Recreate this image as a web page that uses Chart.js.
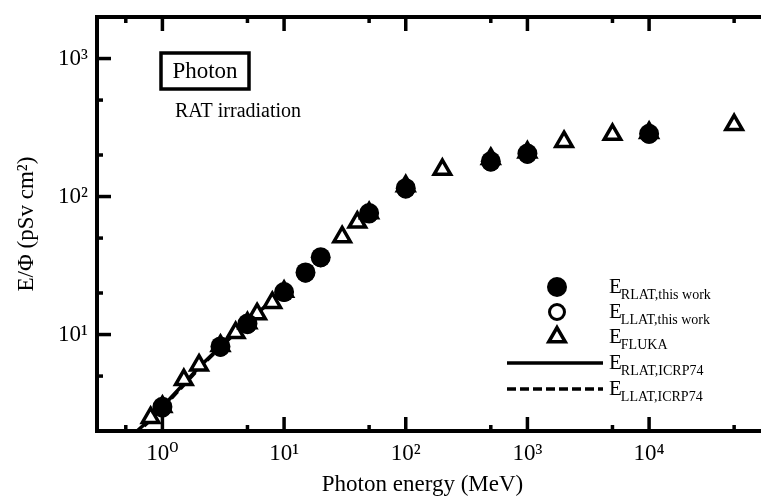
<!DOCTYPE html>
<html>
<head>
<meta charset="utf-8">
<script src="https://cdn.jsdelivr.net/npm/chart.js@4.4.0/dist/chart.umd.min.js"></script>
<style>
  html, body { margin: 0; padding: 0; background: #fff; }
  #wrap { width: 761px; height: 502px; position: relative; }
</style>
</head>
<body>
<div id="wrap"><canvas id="doseChart"></canvas></div>
<script>
// E/Phi values (pSv cm^2), photon energy in MeV
const energyThisWork = [1, 3, 5, 10, 15, 20, 50, 100, 500, 1000, 10000];
const rlatThisWork = [3.0, 8.2, 12.0, 20.3, 28.2, 36.3, 76, 115, 180, 205, 285];
const llatThisWork = [2.9, 8.0, 11.7, 20.0, 27.6, 35.6, 74, 112, 176, 200, 280];

const energyFluka = [0.8, 1, 1.5, 2, 3, 4, 5, 6, 8, 10, 30, 40, 50, 100, 200, 500, 1000, 2000, 5000, 10000, 50000];
const flukaValues = [2.5, 3.0, 4.7, 6.0, 8.3, 10.3, 12.1, 14.1, 17.0, 20.5, 51, 65, 76, 119, 157, 188, 209, 250, 281, 290, 331];

const energyIcrp = [0.5, 0.6, 0.8, 1, 1.5, 2, 3, 4, 5, 6, 8, 10];
const rlatIcrp74 = [1.65, 1.95, 2.45, 3.0, 4.4, 5.8, 8.2, 10.5, 12.4, 14.3, 17.6, 20.4];
const llatIcrp74 = [1.6, 1.9, 2.4, 2.95, 4.3, 5.7, 8.1, 10.3, 12.2, 14.1, 17.4, 20.1];

const xMajorTicks = [1, 10, 100, 1000, 10000];
const xMinorTicks = [0.5, 5, 50, 500, 5000, 50000];
const yMajorTicks = [10, 100, 1000];
const yMinorTicks = [5, 20, 50, 200, 500];

const legendLabels = [
    ['E', 'RLAT,this work'],
    ['E', 'LLAT,this work'],
    ['E', 'FLUKA'],
    ['E', 'RLAT,ICRP74'],
    ['E', 'LLAT,ICRP74']
];

const serif = "'Liberation Serif', 'Times New Roman', 'DejaVu Serif', serif";
const SUP = ['⁰', '¹', '²', '³', '⁴', '⁵', '⁶', '⁷', '⁸', '⁹'];

function toPoints(xs, ys) {
    return xs.map((x, i) => ({ x: x, y: ys[i] }));
}

function buildTicks(major, minor) {
    return major.map(v => ({ value: v, major: true }))
        .concat(minor.map(v => ({ value: v, major: false })))
        .sort((a, b) => a.value - b.value);
}

function decadeLabel(value) {
    const e = Math.round(Math.log10(value));
    return '10' + String(e).split('').map(d => SUP[+d]).join('');
}

function drawSymbol(ctx, style, x, y) {
    ctx.save();
    ctx.lineWidth = style.borderWidth;
    ctx.strokeStyle = '#000';
    ctx.fillStyle = style.fill;
    ctx.beginPath();
    if (style.shape === 'circle') {
        ctx.arc(x, y, style.radius, 0, Math.PI * 2);
    } else if (style.shape === 'triangle') {
        const r = style.radius;
        ctx.moveTo(x, y - r);
        ctx.lineTo(x + r * Math.sin(Math.PI * 2 / 3), y - r * Math.cos(Math.PI * 2 / 3));
        ctx.lineTo(x - r * Math.sin(Math.PI * 2 / 3), y - r * Math.cos(Math.PI * 2 / 3));
        ctx.closePath();
    }
    ctx.fill();
    if (style.borderWidth > 0) ctx.stroke();
    ctx.restore();
}

// frame with inward ticks on left, top and bottom
const frameTicks = {
    id: 'frameTicks',
    afterDraw(chart) {
        const ctx = chart.ctx;
        const a = chart.chartArea;
        const xs = chart.scales.x;
        const ys = chart.scales.y;
        ctx.save();
        ctx.strokeStyle = '#000';
        ctx.lineCap = 'butt';
        ctx.lineWidth = 4;
        ctx.beginPath();
        ctx.moveTo(chart.width + 2, a.top);
        ctx.lineTo(a.left, a.top);
        ctx.lineTo(a.left, a.bottom);
        ctx.lineTo(chart.width + 2, a.bottom);
        ctx.stroke();

        ctx.lineWidth = 3.5;
        xs.ticks.forEach(t => {
            const px = xs.getPixelForValue(t.value);
            const len = t.major ? 14 : 6;
            ctx.beginPath();
            ctx.moveTo(px, a.bottom);
            ctx.lineTo(px, a.bottom - len);
            ctx.moveTo(px, a.top);
            ctx.lineTo(px, a.top + len);
            ctx.stroke();
        });
        ys.ticks.forEach(t => {
            const py = ys.getPixelForValue(t.value);
            const len = t.major ? 14 : 6;
            ctx.beginPath();
            ctx.moveTo(a.left, py);
            ctx.lineTo(a.left + len, py);
            ctx.stroke();
        });
        ctx.restore();
    }
};

const notes = {
    id: 'notes',
    afterDraw(chart) {
        const ctx = chart.ctx;
        ctx.save();
        ctx.fillStyle = '#000';
        ctx.strokeStyle = '#000';

        // "Photon" box
        ctx.lineWidth = 3.5;
        ctx.strokeRect(161, 53, 88, 36);
        ctx.font = '23px ' + serif;
        ctx.textAlign = 'center';
        ctx.textBaseline = 'middle';
        ctx.fillText('Photon', 205, 72);

        ctx.textAlign = 'left';
        ctx.font = '20px ' + serif;
        ctx.fillText('RAT irradiation', 175, 112);

        // legend
        const styles = [
            { shape: 'circle', radius: 10, fill: '#000', borderWidth: 0 },
            { shape: 'circle', radius: 7.5, fill: '#fff', borderWidth: 3 },
            { shape: 'triangle', radius: 9.5, fill: '#fff', borderWidth: 3.5 },
            { shape: 'line', dash: [] },
            { shape: 'line', dash: [9, 4] }
        ];
        const rowY = [287, 312, 337, 363, 389];
        legendLabels.forEach((lab, i) => {
            const st = styles[i];
            const y = rowY[i];
            if (st.shape === 'line') {
                ctx.save();
                ctx.lineWidth = 3.5;
                ctx.setLineDash(st.dash);
                ctx.beginPath();
                ctx.moveTo(507, y);
                ctx.lineTo(603, y);
                ctx.stroke();
                ctx.restore();
            } else {
                drawSymbol(ctx, st, 557, y);
            }
            ctx.textBaseline = 'middle';
            ctx.font = '21px ' + serif;
            ctx.fillText(lab[0], 609, y);
            const w = ctx.measureText(lab[0]).width;
            ctx.font = '14px ' + serif;
            ctx.fillText(lab[1], 609 + w - 1, y + 8);
        });
        ctx.restore();
    }
};

new Chart(document.getElementById('doseChart'), {
    type: 'scatter',
    data: {
        datasets: [
            {
                label: 'E RLAT, this work',
                data: toPoints(energyThisWork, rlatThisWork),
                pointStyle: 'circle',
                pointRadius: 10,
                backgroundColor: '#000',
                borderColor: '#000',
                borderWidth: 0
            },
            {
                label: 'E LLAT, this work',
                data: toPoints(energyThisWork, llatThisWork),
                pointStyle: 'circle',
                pointRadius: 7.5,
                backgroundColor: '#fff',
                borderColor: '#000',
                borderWidth: 3
            },
            {
                label: 'E FLUKA',
                data: toPoints(energyFluka, flukaValues),
                pointStyle: 'triangle',
                pointRadius: 9.5,
                backgroundColor: '#fff',
                borderColor: '#000',
                borderWidth: 3.5
            },
            {
                label: 'E RLAT, ICRP74',
                data: toPoints(energyIcrp, rlatIcrp74),
                showLine: true,
                pointRadius: 0,
                borderColor: '#000',
                borderWidth: 3.5,
                clip: 0
            },
            {
                label: 'E LLAT, ICRP74',
                data: toPoints(energyIcrp, llatIcrp74),
                showLine: true,
                pointRadius: 0,
                borderColor: '#000',
                borderWidth: 3.5,
                borderDash: [9, 4],
                clip: 0
            }
        ]
    },
    options: {
        responsive: true,
        maintainAspectRatio: false,
        animation: false,
        layout: { padding: { top: 17, left: 0, right: 0, bottom: 0 } },
        plugins: {
            legend: { display: false },
            tooltip: { enabled: false }
        },
        scales: {
            x: {
                type: 'logarithmic',
                min: 0.29,
                max: 65000,
                grid: { display: false, drawTicks: false },
                border: { display: false },
                afterBuildTicks: s => { s.ticks = buildTicks(xMajorTicks, xMinorTicks); },
                afterFit: s => { s.height = 71; s.paddingLeft = 0; s.paddingRight = 0; },
                ticks: {
                    autoSkip: false,
                    maxRotation: 0,
                    padding: 9,
                    color: '#000',
                    font: { family: serif, size: 23 },
                    callback: function (value, index, ticks) {
                        return ticks[index].major ? decadeLabel(value) : '';
                    }
                },
                title: {
                    display: true,
                    text: 'Photon energy (MeV)',
                    color: '#000',
                    font: { family: serif, size: 23 },
                    padding: { top: 0, bottom: 3 }
                }
            },
            y: {
                type: 'logarithmic',
                min: 2,
                max: 2000,
                grid: { display: false, drawTicks: false },
                border: { display: false },
                afterBuildTicks: s => { s.ticks = buildTicks(yMajorTicks, yMinorTicks); },
                afterFit: s => { s.width = 97; s.paddingTop = 0; s.paddingBottom = 0; },
                ticks: {
                    autoSkip: false,
                    padding: 9,
                    color: '#000',
                    font: { family: serif, size: 23 },
                    callback: function (value, index, ticks) {
                        return ticks[index].major ? decadeLabel(value) : '';
                    }
                },
                title: {
                    display: true,
                    text: 'E/Φ (pSv cm²)',
                    color: '#000',
                    font: { family: serif, size: 23 },
                    padding: { top: 13, bottom: 0 }
                }
            }
        }
    },
    plugins: [frameTicks, notes]
});
</script>
</body>
</html>
